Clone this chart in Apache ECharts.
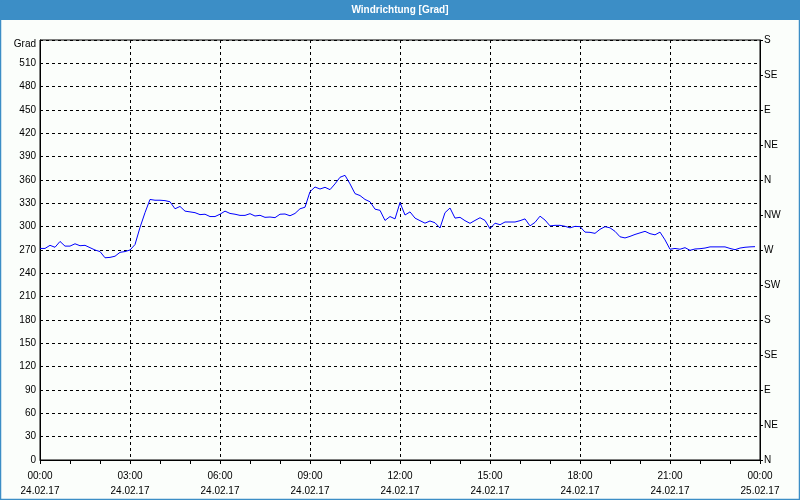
<!DOCTYPE html>
<html>
<head>
<meta charset="utf-8">
<script src="https://cdn.jsdelivr.net/npm/echarts@6/dist/echarts.min.js"></script>
<style>
html,body{margin:0;padding:0;background:#fbfefb;}
#c{width:800px;height:500px;}
</style>
</head>
<body>
<div id="c"></div>
<script>
// Data: wind direction every 10 minutes, 24.02.17 00:00 .. 23:50
var stepHours = 1 / 6;
var windDir = [
272,272,276,273.5,281,275,275,278,275.5,276,
273,270,268,260,260.5,262,267,268,270,277,
299,318,335,334,334,333.5,332,323,326,320,
319,318,315.5,316,313,313,316,320,317,316,
314.5,314.5,316.7,313.7,314.6,312,312.4,311.6,316,316.3,
314,317,323,325,345,351,348.4,350.6,347.6,355,
363.5,366,355,342.5,340,335,332,322.5,321,308,
313,310,331,315,319,311,307.7,304.5,307.3,305,
298.3,318,324,311,312,307.7,304.3,308,311.5,308,
297.4,304.5,302.5,306,306,306,307.7,310,301,305.5,
313.5,308.5,301,301.7,301.7,300.5,298.5,300.4,300,293,
292.7,291.4,296.6,300,298.5,294,287,285.5,287.5,290,
292,294,291,289.5,293,283,271,272,271,273,
269.6,271.3,271.7,272.5,274,274,274,274,272,270.4,
272.5,273.5,274,274.3
];
var xTimeLabels = ['00:00','03:00','06:00','09:00','12:00','15:00','18:00','21:00','00:00'];
var xDateLabels = ['24.02.17','24.02.17','24.02.17','24.02.17','24.02.17','24.02.17','24.02.17','24.02.17','25.02.17'];
var dirLabels = ['N','NE','E','SE','S','SW','W','NW','N','NE','E','SE','S'];
var titleText = 'Windrichtung [Grad]';
var yUnit = 'Grad';

var seriesData = windDir.map(function (v, i) { return [i * stepHours, v]; });

var font = 'Liberation Sans';
var chart = echarts.init(document.getElementById('c'), null, {renderer: 'canvas'});
chart.setOption({
  animation: false,
  backgroundColor: '#fbfefb',
  textStyle: {fontFamily: font},
  graphic: [
    {type: 'rect', shape: {x: 0, y: 0, width: 800, height: 20}, style: {fill: '#3c8ec6'}, z: 10},
    {type: 'rect', shape: {x: 0.5, y: 0.5, width: 799, height: 499}, style: {fill: 'none', stroke: '#3c8ec6', lineWidth: 1.5}, z: 10},
    {type: 'text', x: 400, y: 10, style: {text: titleText, fill: '#ffffff', font: 'bold 10px "Liberation Sans"', textAlign: 'center', textVerticalAlign: 'middle'}, z: 11}
  ],
  grid: {left: 40, right: 40, top: 40, bottom: 40, show: true, borderColor: '#000', borderWidth: 1, backgroundColor: 'transparent'},
  xAxis: {
    type: 'value', min: 0, max: 24, interval: 3,
    axisLine: {show: true, lineStyle: {color: '#000', width: 1}},
    axisTick: {show: true, length: 4, lineStyle: {color: '#000'}},
    minorTick: {show: true, splitNumber: 3, length: 4, lineStyle: {color: '#000'}},
    splitLine: {show: true, lineStyle: {color: '#000', type: [3, 3], width: 1}},
    axisLabel: {
      color: '#000', fontSize: 10, lineHeight: 15, margin: 9, fontFamily: font,
      formatter: function (v) { var k = Math.round(v / 3); return xTimeLabels[k] + '\n' + xDateLabels[k]; }
    }
  },
  yAxis: [
    {
      type: 'value', position: 'left', min: 0, max: 540, interval: 30,
      axisLine: {show: true, lineStyle: {color: '#000', width: 1}},
      axisTick: {show: false},
      splitLine: {show: true, lineStyle: {color: '#000', type: [3, 3], width: 1}},
      axisLabel: {color: '#000', fontSize: 10, margin: 4, fontFamily: font,
        rich: {g: {fontSize: 10, fontFamily: font, color: '#000', padding: [8, 0, 0, 0]}},
        formatter: function (v) { return v === 540 ? '{g|' + yUnit + '}' : String(v); }}
    },
    {
      type: 'value', position: 'right', min: 0, max: 540, interval: 45,
      axisLine: {show: true, lineStyle: {color: '#000', width: 1}},
      axisTick: {show: true, length: 3, lineStyle: {color: '#000'}},
      splitLine: {show: false},
      axisLabel: {color: '#000', fontSize: 10, margin: 4, fontFamily: font,
        formatter: function (v) { return dirLabels[Math.round(v / 45)]; }}
    }
  ],
  series: [{
    type: 'line', yAxisIndex: 0, data: seriesData, showSymbol: false,
    lineStyle: {color: '#0000ff', width: 1}, itemStyle: {color: '#0000ff'}
  }]
});
</script>
</body>
</html>
